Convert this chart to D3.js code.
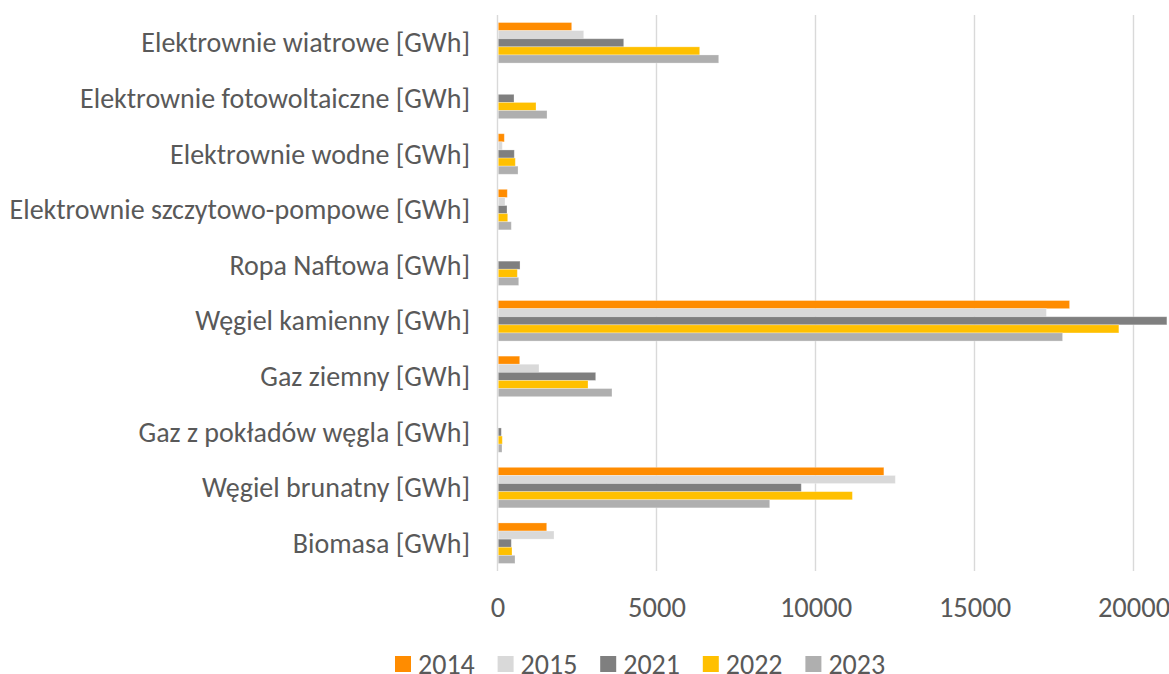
<!DOCTYPE html>
<html>
<head>
<meta charset="utf-8">
<script src="https://cdn.jsdelivr.net/npm/d3@7"></script>
<style>
  html, body { margin: 0; padding: 0; background: #fff; }
  svg { display: block; font-family: Carlito, Calibri, Lato, sans-serif; }
</style>
</head>
<body>
<svg id="chart" width="1169" height="674"></svg>
<script>
// kategorie od góry do dołu
const categories = [
  "Elektrownie wiatrowe [GWh]",
  "Elektrownie fotowoltaiczne [GWh]",
  "Elektrownie wodne [GWh]",
  "Elektrownie szczytowo-pompowe [GWh]",
  "Ropa Naftowa [GWh]",
  "Węgiel kamienny [GWh]",
  "Gaz ziemny [GWh]",
  "Gaz z pokładów węgla [GWh]",
  "Węgiel brunatny [GWh]",
  "Biomasa [GWh]"
];
const years = ["2014", "2015", "2021", "2022", "2023"];
const colors = ["#ff8c00", "#d9d9d9", "#7f7f7f", "#ffc000", "#afafaf"];

// wartości w kolejności kategorii
const v2014 = [2333, 0, 214, 308, 0, 17990, 698, 0, 12150, 1547];
const v2015 = [2711, 0, 151, 236, 0, 17260, 1305, 0, 12510, 1777];
const v2021 = [3969, 519, 528, 299, 708, 21050, 3088, 120, 9553, 434];
const v2022 = [6358, 1211, 560, 321, 623, 19540, 2846, 151, 11160, 456];
const v2023 = [6956, 1557, 645, 434, 667, 17770, 3600, 141, 8560, 550];
const series = [v2014, v2015, v2021, v2022, v2023];

const xTicks = [0, 5000, 10000, 15000, 20000];

const svg = d3.select("#chart");

const x0 = 497.5, pxPer5000 = 159;
const x = d3.scaleLinear()
  .domain([0, 25000])
  .range([x0, x0 + 5 * pxPer5000]);

const y = d3.scaleBand()
  .domain(categories)
  .range([15, 571]);

const yInner = d3.scaleBand()
  .domain(years)
  .range([0, y.bandwidth()])
  .paddingOuter(0.93);

// linie siatki
svg.append("g")
  .selectAll("line")
  .data(xTicks)
  .enter()
  .append("line")
  .attr("x1", d => x(d))
  .attr("x2", d => x(d))
  .attr("y1", 15)
  .attr("y2", 571)
  .attr("stroke", "#d9d9d9")
  .attr("stroke-width", 1.4);

// słupki
const rows = [];
categories.forEach((c, i) => {
  years.forEach((yr, j) => {
    rows.push({ cat: c, year: yr, value: series[j][i], color: colors[j] });
  });
});

svg.append("g")
  .selectAll("rect")
  .data(rows.filter(d => d.value > 0))
  .enter()
  .append("rect")
  .attr("x", x(0) + 0.8)
  .attr("y", d => y(d.cat) + yInner(d.year))
  .attr("width", d => x(d.value) - x(0) - 0.8)
  .attr("height", yInner.bandwidth())
  .attr("fill", d => d.color)
  .attr("stroke", "rgba(255,255,255,0.35)")
  .attr("stroke-width", 0.8);

// etykiety kategorii
svg.append("g")
  .selectAll("text")
  .data(categories)
  .enter()
  .append("text")
  .attr("x", 470)
  .attr("y", d => y(d) + y.bandwidth() / 2)
  .attr("text-anchor", "end")
  .attr("dominant-baseline", "central")
  .attr("fill", "#595959")
  .attr("font-size", "28px")
  .text(d => d);

// etykiety osi X
const xAxis = d3.axisBottom(x)
  .tickValues(xTicks)
  .tickSize(0)
  .tickPadding(0)
  .tickFormat(d3.format("d"));

const ax = svg.append("g")
  .attr("transform", "translate(0,607)")
  .call(xAxis);
ax.select(".domain").remove();
ax.selectAll("text")
  .attr("y", 0)
  .attr("dy", null)
  .attr("dominant-baseline", "central")
  .attr("fill", "#595959")
  .attr("font-size", "28.5px")
  .attr("font-family", "Carlito, Calibri, Lato, sans-serif");

// legenda
const legend = svg.append("g")
  .selectAll("g")
  .data(years)
  .enter()
  .append("g")
  .attr("transform", (d, i) => `translate(${395 + i * 102.6}, 656)`);

legend.append("rect")
  .attr("width", 16)
  .attr("height", 16)
  .attr("fill", (d, i) => colors[i]);

legend.append("text")
  .attr("x", 23)
  .attr("y", 8)
  .attr("dominant-baseline", "central")
  .attr("fill", "#595959")
  .attr("font-size", "28px")
  .text(d => d);
</script>
</body>
</html>
